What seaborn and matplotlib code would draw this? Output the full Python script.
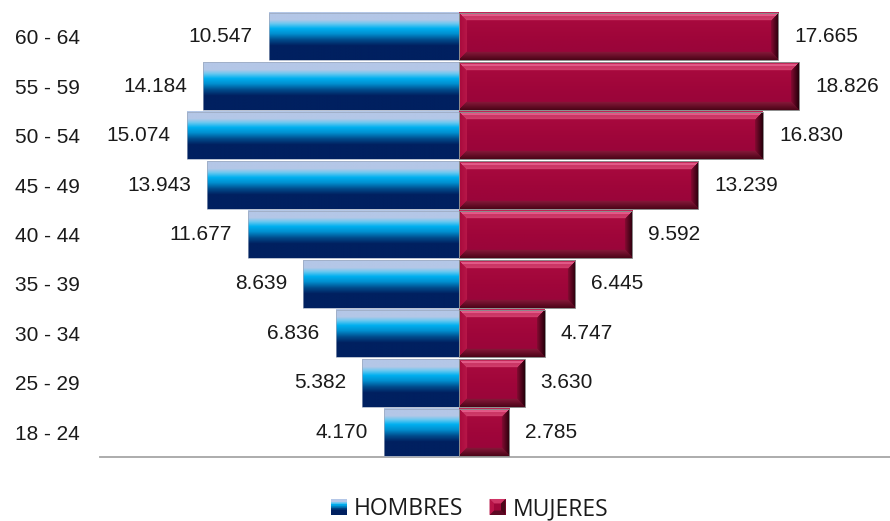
import numpy as np
import pandas as pd
import matplotlib
matplotlib.use('Agg')
import matplotlib.pyplot as plt
import seaborn as sns
from matplotlib.patches import Rectangle, Polygon
from matplotlib.legend_handler import HandlerBase
from matplotlib.colors import LinearSegmentedColormap, to_rgb

categories = ["60 - 64", "55 - 59", "50 - 54", "45 - 49", "40 - 44",
              "35 - 39", "30 - 34", "25 - 29", "18 - 24"]
hombres = [10547, 14184, 15074, 13943, 11677, 8639, 6836, 5382, 4170]
mujeres = [17665, 18826, 16830, 13239, 9592, 6445, 4747, 3630, 2785]
series = ["HOMBRES", "MUJERES"]

sns.set_theme(style='white')
plt.rcParams['font.family'] = ['Liberation Sans', 'DejaVu Sans']

W, H = 890, 521
fig = plt.figure(figsize=(W / 100, H / 100), dpi=100)
ax = fig.add_axes([100 / W, 1 - 457 / H, 790 / W, 445 / H])

df_h = pd.DataFrame({'grupo': categories, 'valor': [-v for v in hombres]})
df_m = pd.DataFrame({'grupo': categories, 'valor': mujeres})
sns.barplot(data=df_h, x='valor', y='grupo', orient='h', order=categories,
            width=0.96, color='#002060', errorbar=None, ax=ax)
sns.barplot(data=df_m, x='valor', y='grupo', orient='h', order=categories,
            width=0.96, color='#a0063a', errorbar=None, ax=ax)

xlim = (-(459 - 100) / 18.06 * 1000, (890 - 459) / 18.06 * 1000)
ax.set_xlim(*xlim)
ax.set_ylim(8.5, -0.5)

blue_cmap = LinearSegmentedColormap.from_list('blue', [
    (0.0, '#b4c7e7'), (0.16, '#b4c7e7'), (0.24, '#6cc8f0'), (0.34, '#00b0f0'),
    (0.45, '#0090d0'), (0.58, '#004c8c'), (0.70, '#002060'), (1.0, '#002060')])

fig.canvas.draw()
patches = list(ax.patches)
n = len(categories)
hp, mp = patches[:n], patches[n:2 * n]

grad = np.linspace(0, 1, 256).reshape(-1, 1)
for p in hp:
    x0, y0 = p.get_x(), p.get_y()
    w, h = p.get_width(), p.get_height()
    ax.imshow(grad, cmap=blue_cmap, aspect='auto', interpolation='bilinear',
              extent=(x0, x0 + w, y0 + h, y0), zorder=2)
    p.set_facecolor('none')
    p.set_edgecolor('#9aa7bd')
    p.set_linewidth(0.5)
    p.set_zorder(3)


def rgb(c):
    return np.array(to_rgb(c))


def bevel_img(wp, hp_, b=8):
    wp, hp_ = max(int(round(wp)), 2), max(int(round(hp_)), 2)
    i = np.arange(hp_).reshape(-1, 1) * np.ones((1, wp))
    j = np.ones((hp_, 1)) * np.arange(wp).reshape(1, -1)
    dt, db, dl, dr = i, hp_ - 1 - i, j, wp - 1 - j
    stack = np.stack([dt, db, dl, dr])
    m = stack.min(axis=0)
    face = stack.argmin(axis=0)
    img = np.zeros((hp_, wp, 3))
    t = (i / (hp_ - 1))[..., None]
    c_top, c_mid, c_bot = rgb('#ab0b40'), rgb('#a0063a'), rgb('#97053a')
    center = np.where(t < 0.5, c_top + (c_mid - c_top) * (t / 0.5),
                      c_mid + (c_bot - c_mid) * ((t - 0.5) / 0.5))
    img[:] = center
    # (outer, inner) colours of each bevel face: top, bottom, left, right
    faces = [('#c02556', '#d3416f'), ('#4e0519', '#8a1a3c'),
             ('#a80a3c', '#b9184a'), ('#2a000c', '#8c0c35')]
    f = (m / b)[..., None]
    inner = m < b
    for k, (co, ci) in enumerate(faces):
        mask = inner & (face == k)
        col = rgb(co) + (rgb(ci) - rgb(co)) * f
        img[mask] = col[mask]
    hl = inner & (face == 0) & (dt >= 2) & (dt <= 3)
    img[hl] = rgb('#e25a88')
    return img


for p in mp:
    x0, y0 = p.get_x(), p.get_y()
    w, h = p.get_width(), p.get_height()
    bb = p.get_window_extent()
    img = bevel_img(bb.width, bb.height)
    ax.imshow(img, aspect='auto', interpolation='bilinear',
              extent=(x0, x0 + w, y0 + h, y0), zorder=2)
    p.set_facecolor('none')
    p.set_edgecolor('#8c8c8c')
    p.set_linewidth(0.7)
    p.set_zorder(3)

ax.set_xlim(*xlim)
ax.set_ylim(8.5, -0.5)


def fmt(v):
    return f"{v:,}".replace(',', '.')


for k in range(n):
    ax.annotate(fmt(hombres[k]), xy=(-hombres[k], k), xytext=(-16, 0),
                textcoords='offset pixels', ha='right', va='center',
                fontsize=15, color='#1a1a1a')
    ax.annotate(fmt(mujeres[k]), xy=(mujeres[k], k), xytext=(16, 0),
                textcoords='offset pixels', ha='left', va='center',
                fontsize=15, color='#1a1a1a')

ax.set_yticks(range(n))
ax.set_yticklabels(categories, fontsize=15, color='#1a1a1a')
ax.tick_params(axis='y', length=0, pad=14.4)
ax.set_xticks([])
ax.set_xlabel('')
ax.set_ylabel('')
for s in ['top', 'left', 'right']:
    ax.spines[s].set_visible(False)
ax.spines['bottom'].set_color('#a6a6a6')
ax.spines['bottom'].set_linewidth(1.3)


class GradHandler(HandlerBase):
    def __init__(self, kind):
        super().__init__()
        self.kind = kind

    def create_artists(self, legend, orig_handle, xdescent, ydescent,
                       width, height, fontsize, trans):
        x0, y0 = -xdescent, -ydescent
        arts = []
        if self.kind == 'blue':
            ns = 24
            for q in range(ns):
                f = (q + 0.5) / ns
                yb = y0 + height * (1 - (q + 1) / ns)
                r = Rectangle((x0, yb), width, height / ns + 0.05,
                              facecolor=blue_cmap(f), edgecolor='none',
                              transform=trans)
                arts.append(r)
        else:
            b = width * 0.28
            x1, y1 = x0 + width, y0 + height
            cx0, cy0, cx1, cy1 = x0 + b, y0 + b, x1 - b, y1 - b
            faces = [
                ([(x0, y1), (x1, y1), (cx1, cy1), (cx0, cy1)], '#cf3566'),
                ([(x0, y0), (x1, y0), (cx1, cy0), (cx0, cy0)], '#5c0a24'),
                ([(x0, y0), (x0, y1), (cx0, cy1), (cx0, cy0)], '#b81448'),
                ([(x1, y0), (x1, y1), (cx1, cy1), (cx1, cy0)], '#4a0719'),
            ]
            arts.append(Rectangle((x0, y0), width, height, facecolor='#a0063a',
                                  edgecolor='none', transform=trans))
            for pts, c in faces:
                arts.append(Polygon(pts, closed=True, facecolor=c,
                                    edgecolor='none', transform=trans))
        return arts


h1 = Rectangle((0, 0), 1, 1)
h2 = Rectangle((0, 0), 1, 1, facecolor='red')
fs_leg = 16.5
fig.legend([h1, h2], series, loc='center', bbox_to_anchor=(0.5275, 1 - 509 / H),
           ncol=2, frameon=False, handlelength=11.5 / fs_leg,
           handleheight=11.5 / fs_leg, handletextpad=5 / fs_leg,
           columnspacing=19 / fs_leg,
           prop={'family': ['Open Sans', 'DejaVu Sans'], 'size': fs_leg},
           labelcolor='#1a1a1a',
           handler_map={h1: GradHandler('blue'), h2: GradHandler('red')})

fig.savefig('out.png', dpi=100, facecolor='white')
